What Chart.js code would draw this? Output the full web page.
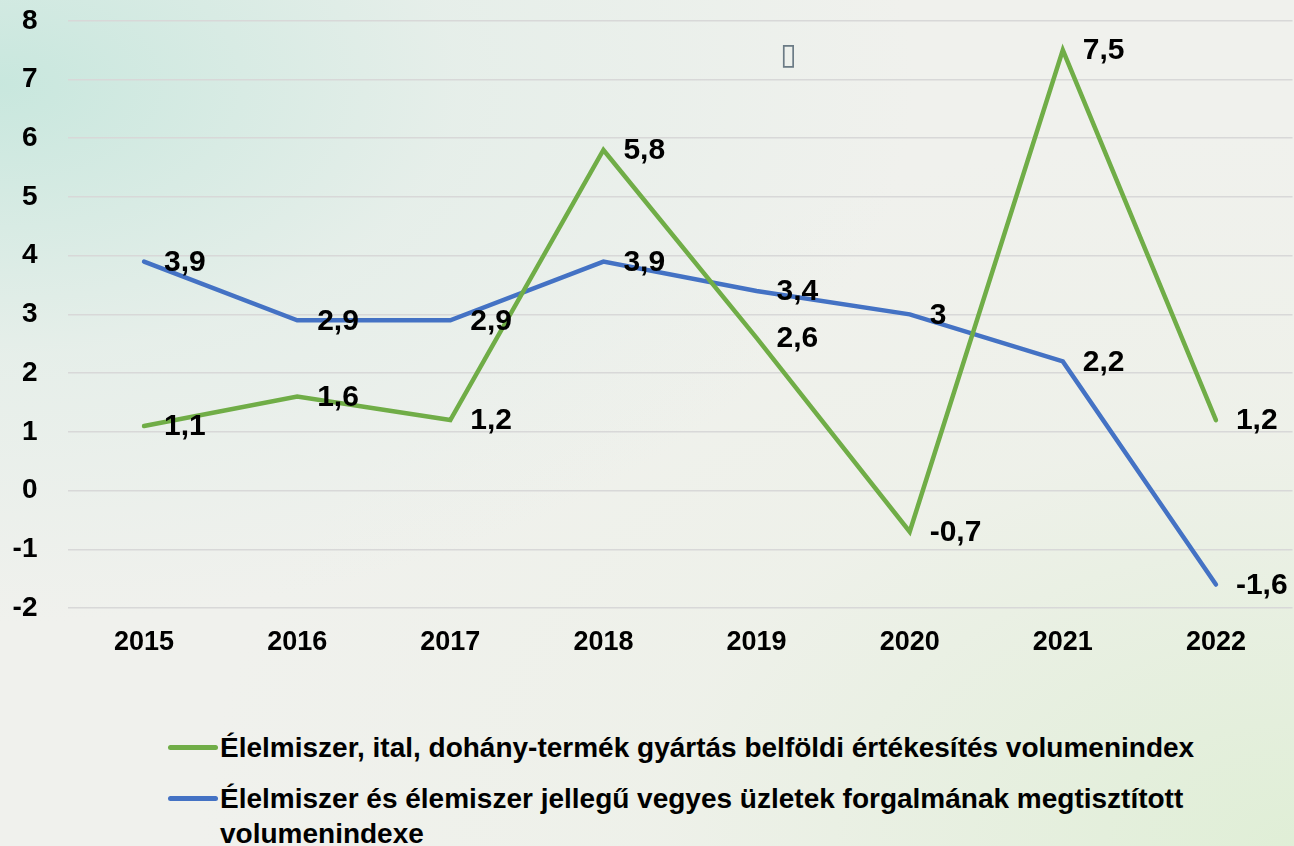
<!DOCTYPE html>
<html lang="hu">
<head>
<meta charset="utf-8">
<script src="https://cdn.jsdelivr.net/npm/chart.js@4"></script>
<style>
    html, body { margin: 0; padding: 0; }
    body {
        width: 1294px;
        height: 846px;
        overflow: hidden;
        position: relative;
        font-family: "Liberation Sans", Arial, sans-serif;
        background:
            radial-gradient(ellipse at 0% 10%, rgba(196, 230, 220, 0.9) 0%, rgba(220, 236, 230, 0.5) 25%, rgba(240, 241, 237, 0) 50%),
            radial-gradient(ellipse at 100% 100%, rgba(222, 238, 212, 0.9) 0%, rgba(235, 240, 228, 0.4) 35%, rgba(240, 241, 237, 0) 60%),
            #f0f1ed;
    }
    /* 위쪽 자동 여백을 상쇄하려고 캔버스를 살짝 위로 올림 */
    .chart-wrap { position: absolute; left: 0; top: -26px; width: 1294px; height: 706px; }
    .legend { position: absolute; left: 168px; top: 730px; right: 0; }
    .legend-item { display: flex; align-items: flex-start; margin-bottom: 16px; }
    .legend-line { width: 50px; height: 5px; border-radius: 2.5px; margin-top: 14.5px; flex: none; }
    .legend-text { font-weight: bold; font-size: 28px; line-height: 35px; color: #000; margin-left: 2px; }
    .odd-glyph { position: absolute; left: 780px; top: 36px; font-size: 30px; color: #6b7b85; font-family: "DejaVu Sans", sans-serif; }
</style>
</head>
<body>
<div class="chart-wrap"><canvas id="line-chart"></canvas></div>
<span class="odd-glyph">▯</span>
<div class="legend" id="legend"></div>

<script>
const years = ['2015', '2016', '2017', '2018', '2019', '2020', '2021', '2022'];
const foodProduction = [1.1, 1.6, 1.2, 5.8, 2.6, -0.7, 7.5, 1.2];
const foodRetail = [3.9, 2.9, 2.9, 3.9, 3.4, 3, 2.2, -1.6];
const seriesNames = [
    'Élelmiszer, ital, dohány-termék gyártás belföldi értékesítés volumenindex',
    'Élelmiszer és élemiszer jellegű vegyes üzletek forgalmának megtisztított volumenindexe'
];
const seriesColors = ['#70ad47', '#4472c4'];

const FONT = '"Liberation Sans", Arial, sans-serif';

// 값 라벨: 점 오른쪽에 굵은 글씨로
const valueLabels = {
    id: 'valueLabels',
    afterDatasetsDraw(chart) {
        const ctx = chart.ctx;
        ctx.save();
        ctx.font = 'bold 30px ' + FONT;
        ctx.fillStyle = '#000';
        ctx.textAlign = 'left';
        ctx.textBaseline = 'middle';
        chart.data.datasets.forEach((ds, i) => {
            chart.getDatasetMeta(i).data.forEach((pt, j) => {
                const txt = String(ds.data[j]).replace('.', ',');
                ctx.fillText(txt, pt.x + 20, pt.y + 1);
            });
        });
        ctx.restore();
    }
};

new Chart(document.getElementById('line-chart').getContext('2d'), {
    type: 'line',
    data: {
        labels: years,
        datasets: [
            { label: seriesNames[0], data: foodProduction, borderColor: seriesColors[0], backgroundColor: seriesColors[0], borderWidth: 4.5, pointRadius: 0, tension: 0, borderCapStyle: 'round', borderJoinStyle: 'miter' },
            { label: seriesNames[1], data: foodRetail, borderColor: seriesColors[1], backgroundColor: seriesColors[1], borderWidth: 4.5, pointRadius: 0, tension: 0, borderCapStyle: 'round', borderJoinStyle: 'miter' }
        ]
    },
    options: {
        responsive: true,
        maintainAspectRatio: false,
        animation: false,
        layout: { padding: { top: 0, right: 1.5, bottom: 0, left: 0 } },
        scales: {
            x: {
                offset: true,
                grid: { display: false, drawTicks: false },
                border: { display: false },
                ticks: { color: '#000', font: { size: 27, weight: 'bold', family: FONT }, padding: 18 },
                afterFit: (scale) => { scale.height = 72; }
            },
            y: {
                min: -2,
                max: 8,
                grid: { color: '#d8d8d8', lineWidth: 1.5, drawTicks: false },
                border: { display: false },
                ticks: { stepSize: 1, color: '#000', font: { size: 28, weight: 'bold', family: FONT }, padding: 30 },
                afterFit: (scale) => { scale.width = 67.5; }
            }
        },
        plugins: {
            legend: { display: false },
            tooltip: { enabled: false }
        }
    },
    plugins: [valueLabels]
});

// HTML 범례 (긴 이름이 줄바꿈 되도록)
document.getElementById('legend').innerHTML = seriesNames.map((name, i) => `
    <div class="legend-item">
        <span class="legend-line" style="background:${seriesColors[i]}"></span>
        <span class="legend-text">${name}</span>
    </div>
`).join('');
</script>
</body>
</html>
